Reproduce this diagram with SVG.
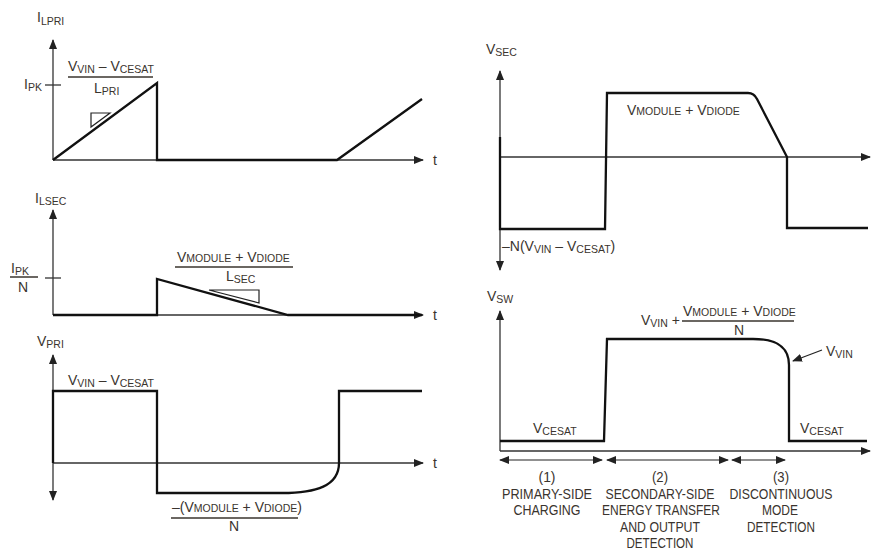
<svg xmlns="http://www.w3.org/2000/svg" width="881" height="551" viewBox="0 0 881 551">
<defs>
<marker id="ah" viewBox="0 0 10 8" refX="9" refY="4" markerWidth="10" markerHeight="8" markerUnits="userSpaceOnUse" orient="auto-start-reverse">
<path d="M0,0 L10,4 L0,8 z" fill="#222"/>
</marker>
</defs>
<style>
text{font-family:"Liberation Sans Narrow","Liberation Sans",Arial,sans-serif;font-size:14px;fill:#3a342e}
.s{font-size:10.5px}
.c{text-anchor:middle}
.ax{stroke:#333;stroke-width:1.3;fill:none}
.wf{stroke:#111;stroke-width:2.3;fill:none;stroke-linejoin:miter}
.th{stroke:#222;stroke-width:1.2;fill:none}
.fl{stroke:#3a342e;stroke-width:1.5}
.ph{font-size:15.5px}
</style>
<rect width="881" height="551" fill="#fff"/>

<g id="ilpri">
<line class="ax" x1="53" y1="160" x2="53" y2="40" marker-end="url(#ah)"/>
<line class="ax" x1="53" y1="160" x2="423" y2="160" marker-end="url(#ah)"/>
<line class="ax" x1="45" y1="85" x2="61" y2="85"/>
<polyline class="wf" points="53,160 157,83 157,160 337,160 422,99"/>
<polygon class="th" points="91,113 110,113 91,127"/>
<text x="37" y="22">I<tspan class="s" dy="3">LPRI</tspan></text>
<text x="24" y="89">I<tspan class="s" dy="2">PK</tspan></text>
<text x="68" y="71">V<tspan class="s" dy="2">VIN</tspan><tspan dy="-2"> – V</tspan><tspan class="s" dy="2">CESAT</tspan></text>
<line class="fl" x1="68" y1="77" x2="153" y2="77"/>
<text x="94" y="93">L<tspan class="s" dy="2">PRI</tspan></text>
<text x="433" y="165">t</text>
</g>

<g id="ilsec">
<line class="ax" x1="53" y1="315" x2="53" y2="210" marker-end="url(#ah)"/>
<line class="ax" x1="53" y1="315" x2="423" y2="315" marker-end="url(#ah)"/>
<line class="ax" x1="45" y1="278" x2="61" y2="278"/>
<polyline class="wf" points="53,315 157,315 157,279 288,315 422,315"/>
<polygon class="th" points="209,290 259,290 259,303"/>
<text x="35" y="203">I<tspan class="s" dy="2">LSEC</tspan></text>
<text x="11" y="273">I<tspan class="s" dy="2">PK</tspan></text>
<line class="fl" x1="10" y1="277" x2="38" y2="277"/>
<text x="18" y="292">N</text>
<text x="177" y="262">V<tspan class="s">MODULE</tspan> + V<tspan class="s">DIODE</tspan></text>
<line class="fl" x1="175" y1="267" x2="293" y2="267"/>
<text x="226" y="281">L<tspan class="s" dy="2">SEC</tspan></text>
<text x="433" y="320">t</text>
</g>

<g id="vpri">
<line class="ax" x1="53" y1="500" x2="53" y2="355" marker-start="url(#ah)" marker-end="url(#ah)"/>
<line class="ax" x1="53" y1="463" x2="423" y2="463" marker-end="url(#ah)"/>
<path class="wf" d="M53,463 V391 H157 V493 H282 C316,493 339,486 339,463 V391 H422"/>
<text x="37" y="346">V<tspan class="s" dy="2">PRI</tspan></text>
<text x="68" y="385">V<tspan class="s" dy="2">VIN</tspan><tspan dy="-2"> – V</tspan><tspan class="s" dy="2">CESAT</tspan></text>
<text x="172" y="512">–(V<tspan class="s">MODULE</tspan> + V<tspan class="s">DIODE</tspan>)</text>
<line class="fl" x1="171" y1="518" x2="298" y2="518"/>
<text x="229" y="531">N</text>
<text x="433" y="468">t</text>
</g>

<g id="vsec">
<line class="ax" x1="500" y1="270" x2="500" y2="71" marker-start="url(#ah)" marker-end="url(#ah)"/>
<line class="ax" x1="500" y1="157" x2="870" y2="157" marker-end="url(#ah)"/>
<path class="wf" d="M500,137 V229 H605 L607,93 H748 Q754,93 757,99 L787,157 V228 H868"/>
<text x="486" y="54">V<tspan class="s" dy="2">SEC</tspan></text>
<text x="627" y="115">V<tspan class="s">MODULE</tspan> + V<tspan class="s">DIODE</tspan></text>
<text x="502" y="251">–N(V<tspan class="s" dy="2">VIN</tspan><tspan dy="-2"> – V</tspan><tspan class="s" dy="2">CESAT</tspan><tspan dy="-2">)</tspan></text>
</g>

<g id="vsw">
<line class="ax" x1="500" y1="451" x2="500" y2="311" marker-end="url(#ah)"/>
<line class="ax" x1="500" y1="451" x2="870" y2="451" marker-end="url(#ah)"/>
<path class="wf" d="M500,441 H604 L607,339 H753 C777,339 789,347 789,365 V441 H867"/>
<text x="487" y="301">V<tspan class="s" dy="2">SW</tspan></text>
<text x="641" y="325">V<tspan class="s" dy="2">VIN</tspan><tspan dy="-2"> +</tspan></text>
<text x="683" y="316">V<tspan class="s">MODULE</tspan> + V<tspan class="s">DIODE</tspan></text>
<line class="fl" x1="682" y1="321" x2="794" y2="321"/>
<text x="734" y="335">N</text>
<line class="th" x1="822" y1="350" x2="793" y2="361" marker-end="url(#ah)"/>
<text x="826" y="356">V<tspan class="s" dy="2">VIN</tspan></text>
<text x="533" y="433">V<tspan class="s" dy="2">CESAT</tspan></text>
<text x="800" y="433">V<tspan class="s" dy="2">CESAT</tspan></text>
</g>

<g id="phases">
<line class="th" x1="500" y1="460" x2="602" y2="460" marker-start="url(#ah)" marker-end="url(#ah)"/>
<line class="th" x1="607" y1="460" x2="728" y2="460" marker-start="url(#ah)" marker-end="url(#ah)"/>
<line class="th" x1="732" y1="460" x2="785" y2="460" marker-start="url(#ah)" marker-end="url(#ah)"/>
<text class="c ph" x="547" y="482" textLength="17" lengthAdjust="spacingAndGlyphs">(1)</text>
<text class="c ph" x="547" y="499" textLength="90" lengthAdjust="spacingAndGlyphs">PRIMARY-SIDE</text>
<text class="c ph" x="547" y="515" textLength="67" lengthAdjust="spacingAndGlyphs">CHARGING</text>
<text class="c ph" x="660" y="482" textLength="16" lengthAdjust="spacingAndGlyphs">(2)</text>
<text class="c ph" x="660" y="499" textLength="109" lengthAdjust="spacingAndGlyphs">SECONDARY-SIDE</text>
<text class="c ph" x="661" y="515" textLength="118" lengthAdjust="spacingAndGlyphs">ENERGY TRANSFER</text>
<text class="c ph" x="660" y="532" textLength="80" lengthAdjust="spacingAndGlyphs">AND OUTPUT</text>
<text class="c ph" x="660" y="548" textLength="67" lengthAdjust="spacingAndGlyphs">DETECTION</text>
<text class="c ph" x="781" y="482" textLength="16" lengthAdjust="spacingAndGlyphs">(3)</text>
<text class="c ph" x="781" y="499" textLength="103" lengthAdjust="spacingAndGlyphs">DISCONTINUOUS</text>
<text class="c ph" x="780" y="515" textLength="36" lengthAdjust="spacingAndGlyphs">MODE</text>
<text class="c ph" x="781" y="532" textLength="68" lengthAdjust="spacingAndGlyphs">DETECTION</text>
</g>
</svg>
